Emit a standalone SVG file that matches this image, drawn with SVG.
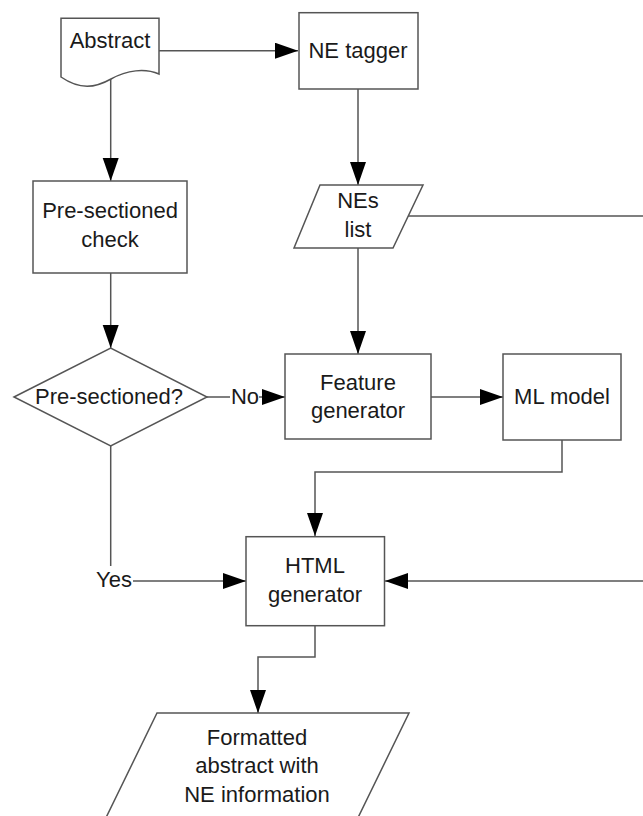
<svg xmlns="http://www.w3.org/2000/svg" width="643" height="816" viewBox="0 0 643 816">
<defs>
<style>
.shape{fill:#fff;stroke:#555;stroke-width:1.5}
.conn{fill:none;stroke:#555;stroke-width:1.5}
text{font-family:"Liberation Sans",Arial,sans-serif;font-size:22px;fill:#1a1a1a;text-anchor:middle}
</style>
<marker id="ah" markerUnits="userSpaceOnUse" markerWidth="24" markerHeight="17" refX="23" refY="8" orient="auto">
<path d="M0,0 L23,8 L0,16 z" fill="#000"/>
</marker>
</defs>
<rect width="643" height="816" fill="#fff"/>
<g id="connectors">
<path class="conn" d="M159,50.7 H298" marker-end="url(#ah)"/>
<path class="conn" d="M110.7,78 V181" marker-end="url(#ah)"/>
<path class="conn" d="M358,89 V185" marker-end="url(#ah)"/>
<path class="conn" d="M110.7,273 V348" marker-end="url(#ah)"/>
<path class="conn" d="M358,248 V354" marker-end="url(#ah)"/>
<path class="conn" d="M207,397 H230"/>
<path class="conn" d="M259,397 H285" marker-end="url(#ah)"/>
<path class="conn" d="M431,397 H503" marker-end="url(#ah)"/>
<path class="conn" d="M562,440 V472 H315 V536" marker-end="url(#ah)"/>
<path class="conn" d="M110.7,446 V566"/>
<path class="conn" d="M133,581 H246" marker-end="url(#ah)"/>
<path class="conn" d="M408,216 H650 V581 H385" marker-end="url(#ah)"/>
<path class="conn" d="M315,626 V657 H258 V713" marker-end="url(#ah)"/>
<text x="114" y="587">Yes</text>
<text x="245" y="404">No</text>
</g>
<g id="abstract">
<path class="shape" d="M61,18.3 H159 V74 C145,68 127,70 111,79 C95,88 80,90 61,77 Z"/>
<text x="110" y="48">Abstract</text>
</g>
<g id="ne-tagger">
<rect class="shape" x="299" y="12.7" width="119" height="76.3"/>
<text x="358" y="58">NE tagger</text>
</g>
<g id="nes-list">
<polygon class="shape" points="320,185 423,185 393,248 294,248"/>
<text x="358" y="208">NEs</text>
<text x="358" y="237">list</text>
</g>
<g id="pre-sectioned-check">
<rect class="shape" x="33" y="181" width="154" height="92"/>
<text x="110" y="218">Pre-sectioned</text>
<text x="110" y="247">check</text>
</g>
<g id="pre-sectioned-decision">
<polygon class="shape" points="14,397 110.7,348 207,397 110.7,446"/>
<text x="109" y="404">Pre-sectioned?</text>
</g>
<g id="feature-generator">
<rect class="shape" x="285" y="354" width="146" height="85"/>
<text x="358" y="390">Feature</text>
<text x="358" y="418">generator</text>
</g>
<g id="ml-model">
<rect class="shape" x="503" y="354" width="118" height="86"/>
<text x="562" y="404">ML model</text>
</g>
<g id="html-generator">
<rect class="shape" x="246" y="536.7" width="138.5" height="89"/>
<text x="315" y="573">HTML</text>
<text x="315" y="602">generator</text>
</g>
<g id="formatted-abstract">
<polygon class="shape" points="157,713 409,713 352,830 100,830"/>
<text x="257" y="745">Formatted</text>
<text x="257" y="773">abstract with</text>
<text x="257" y="802">NE information</text>
</g>
</svg>
